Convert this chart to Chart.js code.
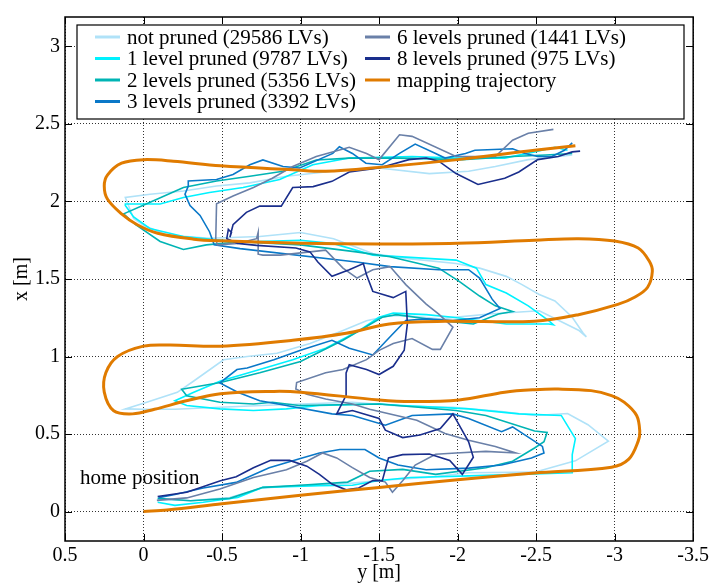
<!DOCTYPE html>
<html>
<head>
<meta charset="utf-8">
<script src="https://cdn.jsdelivr.net/npm/chart.js@4.4.1/dist/chart.umd.min.js"></script>
<style>
  html, body { margin: 0; padding: 0; background: #fff; }
</style>
</head>
<body>
<canvas id="chart" width="712" height="585"></canvas>
<script>
// ---- data: points are [y [m], x [m]] ----
const xTicks = [0.5, 0, -0.5, -1, -1.5, -2, -2.5, -3, -3.5];
const yTicks = [0, 0.5, 1, 1.5, 2, 2.5, 3];

const seriesLabels = [
    "not pruned (29586 LVs)",
    "1 level pruned (9787 LVs)",
    "2 levels pruned (5356 LVs)",
    "3 levels pruned (3392 LVs)",
    "6 levels pruned (1441 LVs)",
    "8 levels pruned (975 LVs)",
    "mapping trajectory"
];
const seriesColors = ["#b0e2f8", "#00f2ff", "#00b4b4", "#0a78c8", "#6a80a8", "#1a2e8c", "#e07b00"];

const notPruned = [[-0.09,0.08],[-0.3,0.07],[-0.55,0.09],[-0.75,0.15],[-1.0,0.17],[-1.3,0.18],[-1.5,0.2],[-1.8,0.22],[-2.07,0.25],[-2.49,0.254],[-2.75,0.327],[-2.96,0.454],[-2.83,0.56],[-2.70,0.632],[-2.49,0.62],[-2.28,0.645],[-1.97,0.673],[-1.65,0.68],[-1.33,0.705],[-0.91,0.69],[-0.486,0.673],[-0.2,0.66],[0.0,0.66],[0.116,0.662],[-0.025,0.706],[-0.215,0.769],[-0.32,0.842],[-0.51,0.979],[-0.66,1.0],[-0.85,1.021],[-1.06,1.084],[-1.27,1.168],[-1.42,1.231],[-1.565,1.263],[-1.67,1.264],[-1.88,1.243],[-2.2,1.274],[-2.52,1.295],[-2.77,1.17],[-2.82,1.127],[-2.80,1.15],[-2.73,1.253],[-2.62,1.358],[-2.52,1.4],[-2.41,1.464],[-2.31,1.517],[-2.14,1.57],[-1.99,1.6],[-1.67,1.633],[-1.46,1.664],[-1.21,1.76],[-1.0,1.80],[-0.74,1.774],[-0.42,1.763],[-0.148,1.784],[0,1.847],[0.063,1.89],[0.116,2.026],[-0.042,2.047],[-0.254,2.068],[-0.465,2.1],[-0.677,2.12],[-0.91,2.163],[-1.2,2.195],[-1.5,2.216],[-1.82,2.18],[-2.07,2.195],[-2.24,2.226],[-2.45,2.27],[-2.73,2.3]];

const pruned1 = [[-0.09,0.06],[-0.2,0.04],[-0.38,0.06],[-0.6,0.09],[-0.76,0.156],[-1.12,0.167],[-1.33,0.17],[-1.5,0.2],[-1.7,0.22],[-2.07,0.23],[-2.39,0.24],[-2.73,0.25],[-2.73,0.367],[-2.75,0.47],[-2.66,0.62],[-2.39,0.63],[-2.07,0.662],[-1.65,0.684],[-1.5,0.694],[-1.12,0.684],[-0.91,0.662],[-0.70,0.652],[-0.486,0.662],[-0.275,0.684],[-0.2,0.715],[-0.32,0.769],[-0.49,0.842],[-0.74,0.916],[-0.95,0.979],[-1.16,1.053],[-1.375,1.168],[-1.50,1.253],[-1.59,1.28],[-1.80,1.27],[-1.97,1.253],[-2.31,1.21],[-2.58,1.21],[-2.61,1.205],[-2.58,1.232],[-2.45,1.327],[-2.31,1.41],[-2.18,1.464],[-2.12,1.57],[-1.99,1.622],[-1.46,1.654],[-1.21,1.728],[-1.0,1.75],[-0.615,1.738],[-0.254,1.774],[-0.04,1.826],[0.063,1.9],[0.116,1.974],[0.116,1.984],[-0.106,1.984],[-0.254,2.026],[-0.42,2.058],[-0.634,2.09],[-0.867,2.142],[-1.078,2.237],[-1.31,2.28],[-1.71,2.29],[-2.0,2.28],[-2.3,2.28],[-2.49,2.32],[-2.62,2.35],[-2.7,2.33]];

const pruned2 = [[-0.09,0.085],[-0.3,0.07],[-0.55,0.085],[-0.76,0.156],[-1.0,0.17],[-1.3,0.19],[-1.44,0.26],[-1.65,0.272],[-1.86,0.24],[-2.18,0.283],[-2.35,0.325],[-2.49,0.41],[-2.55,0.45],[-2.57,0.51],[-2.49,0.52],[-2.18,0.62],[-1.99,0.652],[-1.75,0.673],[-1.5,0.694],[-0.99,0.684],[-0.82,0.705],[-0.70,0.694],[-0.486,0.705],[-0.275,0.747],[-0.243,0.789],[-0.49,0.832],[-0.74,0.895],[-1.0,0.968],[-1.27,1.105],[-1.52,1.253],[-1.61,1.27],[-1.88,1.232],[-2.1,1.21],[-2.26,1.274],[-2.35,1.29],[-2.24,1.327],[-2.14,1.39],[-2.01,1.485],[-1.88,1.57],[-1.57,1.643],[-1.355,1.675],[-1.0,1.72],[-0.615,1.74],[-0.4,1.72],[-0.254,1.69],[-0.106,1.742],[0.05,1.85],[0.127,1.92],[-0.042,1.995],[-0.254,2.09],[-0.465,2.132],[-0.677,2.163],[-0.888,2.195],[-1.1,2.268],[-1.31,2.28],[-1.63,2.28],[-2.03,2.27],[-2.35,2.29],[-2.56,2.3],[-2.73,2.31]];

const pruned3 = [[-0.095,0.09],[-0.2,0.11],[-0.38,0.152],[-0.59,0.188],[-0.80,0.283],[-1.01,0.346],[-1.12,0.378],[-1.25,0.40],[-1.41,0.40],[-1.5,0.346],[-1.62,0.30],[-1.80,0.27],[-2.07,0.28],[-2.28,0.30],[-2.47,0.345],[-2.55,0.378],[-2.54,0.42],[-2.35,0.546],[-2.28,0.515],[-2.07,0.60],[-1.97,0.63],[-1.71,0.62],[-1.54,0.557],[-1.33,0.62],[-1.2,0.63],[-0.91,0.684],[-0.74,0.715],[-0.6,0.77],[-0.486,0.83],[-0.595,0.916],[-0.66,0.926],[-0.83,0.979],[-1.0,1.04],[-1.2,1.105],[-1.31,1.053],[-1.46,1.01],[-1.59,1.148],[-1.67,1.232],[-1.80,1.243],[-1.97,1.232],[-2.14,1.25],[-2.27,1.31],[-2.22,1.37],[-2.14,1.506],[-2.07,1.56],[-1.88,1.56],[-1.57,1.58],[-1.355,1.61],[-0.615,1.696],[-0.45,1.72],[-0.42,1.805],[-0.36,1.91],[-0.296,1.974],[-0.264,2.047],[-0.285,2.1],[-0.285,2.132],[-0.465,2.142],[-0.57,2.174],[-0.677,2.237],[-0.76,2.268],[-0.888,2.226],[-0.994,2.216],[-1.205,2.31],[-1.247,2.353],[-1.33,2.31],[-1.416,2.247],[-1.52,2.237],[-1.63,2.31],[-1.73,2.37],[-1.86,2.31],[-1.92,2.28],[-2.05,2.31],[-2.11,2.33],[-2.35,2.34],[-2.43,2.31],[-2.51,2.29],[-2.6,2.29],[-2.68,2.33],[-2.73,2.378]];

const pruned6 = [[-0.085,0.072],[-0.275,0.088],[-0.486,0.145],[-0.70,0.22],[-0.91,0.27],[-1.04,0.325],[-1.14,0.378],[-1.23,0.346],[-1.33,0.283],[-1.44,0.22],[-1.54,0.19],[-1.585,0.124],[-1.65,0.198],[-1.73,0.30],[-1.86,0.37],[-1.99,0.378],[-2.18,0.388],[-2.37,0.378],[-2.24,0.42],[-2.07,0.46],[-1.92,0.504],[-1.74,0.589],[-1.44,0.66],[-1.33,0.694],[-1.16,0.726],[-1.04,0.757],[-0.97,0.79],[-0.975,0.832],[-1.16,0.895],[-1.27,0.916],[-1.42,0.98],[-1.50,1.04],[-1.59,1.084],[-1.71,1.116],[-1.84,1.046],[-1.89,1.046],[-1.97,1.19],[-1.88,1.274],[-1.80,1.338],[-1.67,1.464],[-1.57,1.58],[-1.46,1.56],[-1.36,1.506],[-1.27,1.57],[-1.16,1.686],[-0.87,1.654],[-0.76,1.654],[-0.73,1.66],[-0.73,1.80],[-0.72,1.76],[-0.6,1.73],[-0.47,1.72],[-0.46,1.76],[-0.465,1.985],[-0.57,2.036],[-0.70,2.09],[-0.82,2.15],[-0.95,2.226],[-1.10,2.29],[-1.31,2.35],[-1.42,2.31],[-1.50,2.27],[-1.63,2.43],[-1.71,2.42],[-1.99,2.29],[-2.24,2.29],[-2.35,2.395],[-2.45,2.44],[-2.61,2.465]];

const pruned8 = [[-0.09,0.097],[-0.275,0.124],[-0.49,0.198],[-0.59,0.224],[-0.70,0.283],[-0.81,0.33],[-0.93,0.33],[-1.04,0.293],[-1.12,0.24],[-1.2,0.177],[-1.29,0.14],[-1.37,0.152],[-1.46,0.2],[-1.52,0.198],[-1.56,0.346],[-1.65,0.367],[-1.82,0.371],[-1.95,0.33],[-2.03,0.24],[-2.1,0.35],[-2.07,0.45],[-1.97,0.63],[-1.89,0.536],[-1.76,0.494],[-1.65,0.477],[-1.54,0.525],[-1.5,0.6],[-1.33,0.652],[-1.23,0.63],[-1.29,0.75],[-1.29,0.894],[-1.31,0.947],[-1.42,0.916],[-1.50,0.884],[-1.59,0.937],[-1.66,1.04],[-1.68,1.21],[-1.67,1.42],[-1.59,1.38],[-1.46,1.42],[-1.42,1.527],[-1.40,1.60],[-1.31,1.56],[-1.2,1.517],[-1.11,1.61],[-1.06,1.675],[-0.97,1.70],[-0.72,1.717],[-0.6,1.73],[-0.53,1.76],[-0.54,1.82],[-0.56,1.80],[-0.55,1.77],[-0.57,1.85],[-0.655,1.93],[-0.74,1.97],[-0.877,1.97],[-0.95,2.09],[-1.08,2.096],[-1.2,2.13],[-1.31,2.19],[-1.5,2.216],[-1.69,2.27],[-1.80,2.28],[-1.88,2.26],[-1.99,2.18],[-2.13,2.11],[-2.30,2.15],[-2.39,2.19],[-2.51,2.27],[-2.64,2.29],[-2.73,2.32],[-2.78,2.325]];

const mapping = [[0,0],[-0.15,0.01],[-0.5,0.05],[-1.0,0.105],[-1.5,0.155],[-2.0,0.205],[-2.49,0.248],[-2.98,0.286],[-3.09,0.338],[-3.15,0.454],[-3.16,0.517],[-3.14,0.62],[-3.06,0.706],[-2.98,0.748],[-2.85,0.78],[-2.64,0.79],[-2.49,0.786],[-2.30,0.77],[-2.01,0.72],[-1.71,0.71],[-1.5,0.72],[-1.0,0.77],[-0.83,0.775],[-0.49,0.76],[-0.28,0.716],[-0.07,0.66],[0.07,0.63],[0.19,0.65],[0.25,0.77],[0.24,0.895],[0.165,1.0],[0,1.067],[-0.17,1.074],[-0.49,1.067],[-0.95,1.105],[-1.29,1.15],[-1.565,1.21],[-1.92,1.227],[-2.49,1.227],[-2.77,1.27],[-3.02,1.336],[-3.13,1.384],[-3.21,1.447],[-3.24,1.55],[-3.22,1.616],[-3.15,1.70],[-3.0,1.745],[-2.77,1.76],[-2.49,1.75],[-2.0,1.73],[-1.5,1.725],[-1.0,1.73],[-0.49,1.746],[-0.32,1.757],[-0.09,1.795],[0.04,1.85],[0.14,1.92],[0.23,2.016],[0.25,2.1],[0.23,2.17],[0.14,2.247],[0,2.27],[-0.19,2.26],[-0.49,2.23],[-0.95,2.205],[-1.16,2.195],[-1.5,2.22],[-2.0,2.27],[-2.49,2.33],[-2.75,2.36]];

const seriesData = [notPruned, pruned1, pruned2, pruned3, pruned6, pruned8, mapping];
//====================================
const FONT = "'Liberation Serif', 'DejaVu Serif', serif";

function toPoints(arr){
    return arr.map(p => ({x: p[0], y: p[1]}));
}

// datasets: mapping trajectory drawn on top
let datasets = seriesData.map((arr, i) => ({
    label: seriesLabels[i],
    data: toPoints(arr),
    borderColor: seriesColors[i],
    borderWidth: i == 6 ? 3 : 1.6,
    pointRadius: 0,
    tension: i == 6 ? 0.35 : 0,
    fill: false,
    order: i == 6 ? 0 : 7 - i
}));

// Plugin for the frame, inward ticks, legend box and the text label
const extras = {
    id: 'extras',
    afterDatasetsDraw(chart){
        const ctx = chart.ctx;
        const a = chart.chartArea;
        const sx = chart.scales.x, sy = chart.scales.y;
        ctx.save();
        ctx.strokeStyle = '#000';
        ctx.lineWidth = 1;
        ctx.beginPath();
        xTicks.forEach(v => {
            let px = Math.round(sx.getPixelForValue(v)) + 0.5;
            ctx.moveTo(px, a.bottom); ctx.lineTo(px, a.bottom - 7);
            ctx.moveTo(px, a.top); ctx.lineTo(px, a.top + 7);
        });
        yTicks.forEach(v => {
            let py = Math.round(sy.getPixelForValue(v)) + 0.5;
            ctx.moveTo(a.left, py); ctx.lineTo(a.left + 7, py);
            ctx.moveTo(a.right, py); ctx.lineTo(a.right - 7, py);
        });
        ctx.stroke();

        // frame
        ctx.lineWidth = 1.5;
        ctx.strokeRect(a.left, a.top, a.right - a.left, a.bottom - a.top);

        // legend box
        let bx = a.left + 12, by = a.top + 8, bw = 607, bh = 94;
        ctx.fillStyle = '#fff';
        ctx.fillRect(bx, by, bw, bh);
        ctx.lineWidth = 1.2;
        ctx.strokeRect(bx, by, bw, bh);
        ctx.font = "21px " + FONT;
        ctx.textBaseline = 'middle';
        ctx.textAlign = 'left';
        const rowY = [20, 41.5, 63, 84.5];
        seriesLabels.forEach((lab, i) => {
            let col = i < 4 ? 0 : 1;
            let row = i < 4 ? i : i - 4;
            let lx = col == 0 ? bx + 18 : bx + 288;
            let ly = a.top + rowY[row];
            ctx.strokeStyle = seriesColors[i];
            ctx.lineWidth = 3;
            ctx.beginPath();
            ctx.moveTo(lx, ly); ctx.lineTo(lx + 25, ly);
            ctx.stroke();
            ctx.fillStyle = '#000';
            ctx.fillText(lab, lx + 32, ly + 1);
        });

        // annotation
        ctx.fillStyle = '#000';
        ctx.fillText("home position", a.left + 15, sy.getPixelForValue(0.215));
        ctx.restore();
    }
};

let config = {
    type: 'line',
    data: {datasets: datasets},
    options: {
        responsive: false,
        animation: false,
        devicePixelRatio: 1,
        layout: {padding: {top: 8, right: 17, left: 0, bottom: 0}},
        plugins: {legend: {display: false}, tooltip: {enabled: false}},
        scales: {
            x: {
                type: 'linear',
                reverse: true,
                min: -3.5,
                max: 0.5,
                afterBuildTicks: s => { s.ticks = xTicks.map(v => ({value: v})); },
                afterFit: s => { s.height = 44; },
                ticks: {
                    color: '#000',
                    padding: 3,
                    font: {family: FONT, size: 20},
                    callback: v => String(v)
                },
                grid: {color: '#333', lineWidth: 1, drawTicks: false},
                border: {display: false, dash: [1, 2]},
                title: {display: true, text: 'y [m]', color: '#000',
                        font: {family: FONT, size: 20}, padding: {top: 0, bottom: 0}}
            },
            y: {
                type: 'linear',
                min: -0.19,
                max: 3.19,
                afterBuildTicks: s => { s.ticks = yTicks.map(v => ({value: v})); },
                afterFit: s => { s.width = 65; },
                ticks: {
                    color: '#000',
                    padding: 5,
                    font: {family: FONT, size: 20},
                    callback: v => String(v)
                },
                grid: {color: '#333', lineWidth: 1, drawTicks: false},
                border: {display: false, dash: [1, 2]},
                title: {display: true, text: 'x [m]', color: '#000',
                        font: {family: FONT, size: 20}, padding: {top: 10, bottom: 0}}
            }
        }
    },
    plugins: [extras]
};

let chart = new Chart(document.getElementById('chart'), config);
</script>
</body>
</html>
